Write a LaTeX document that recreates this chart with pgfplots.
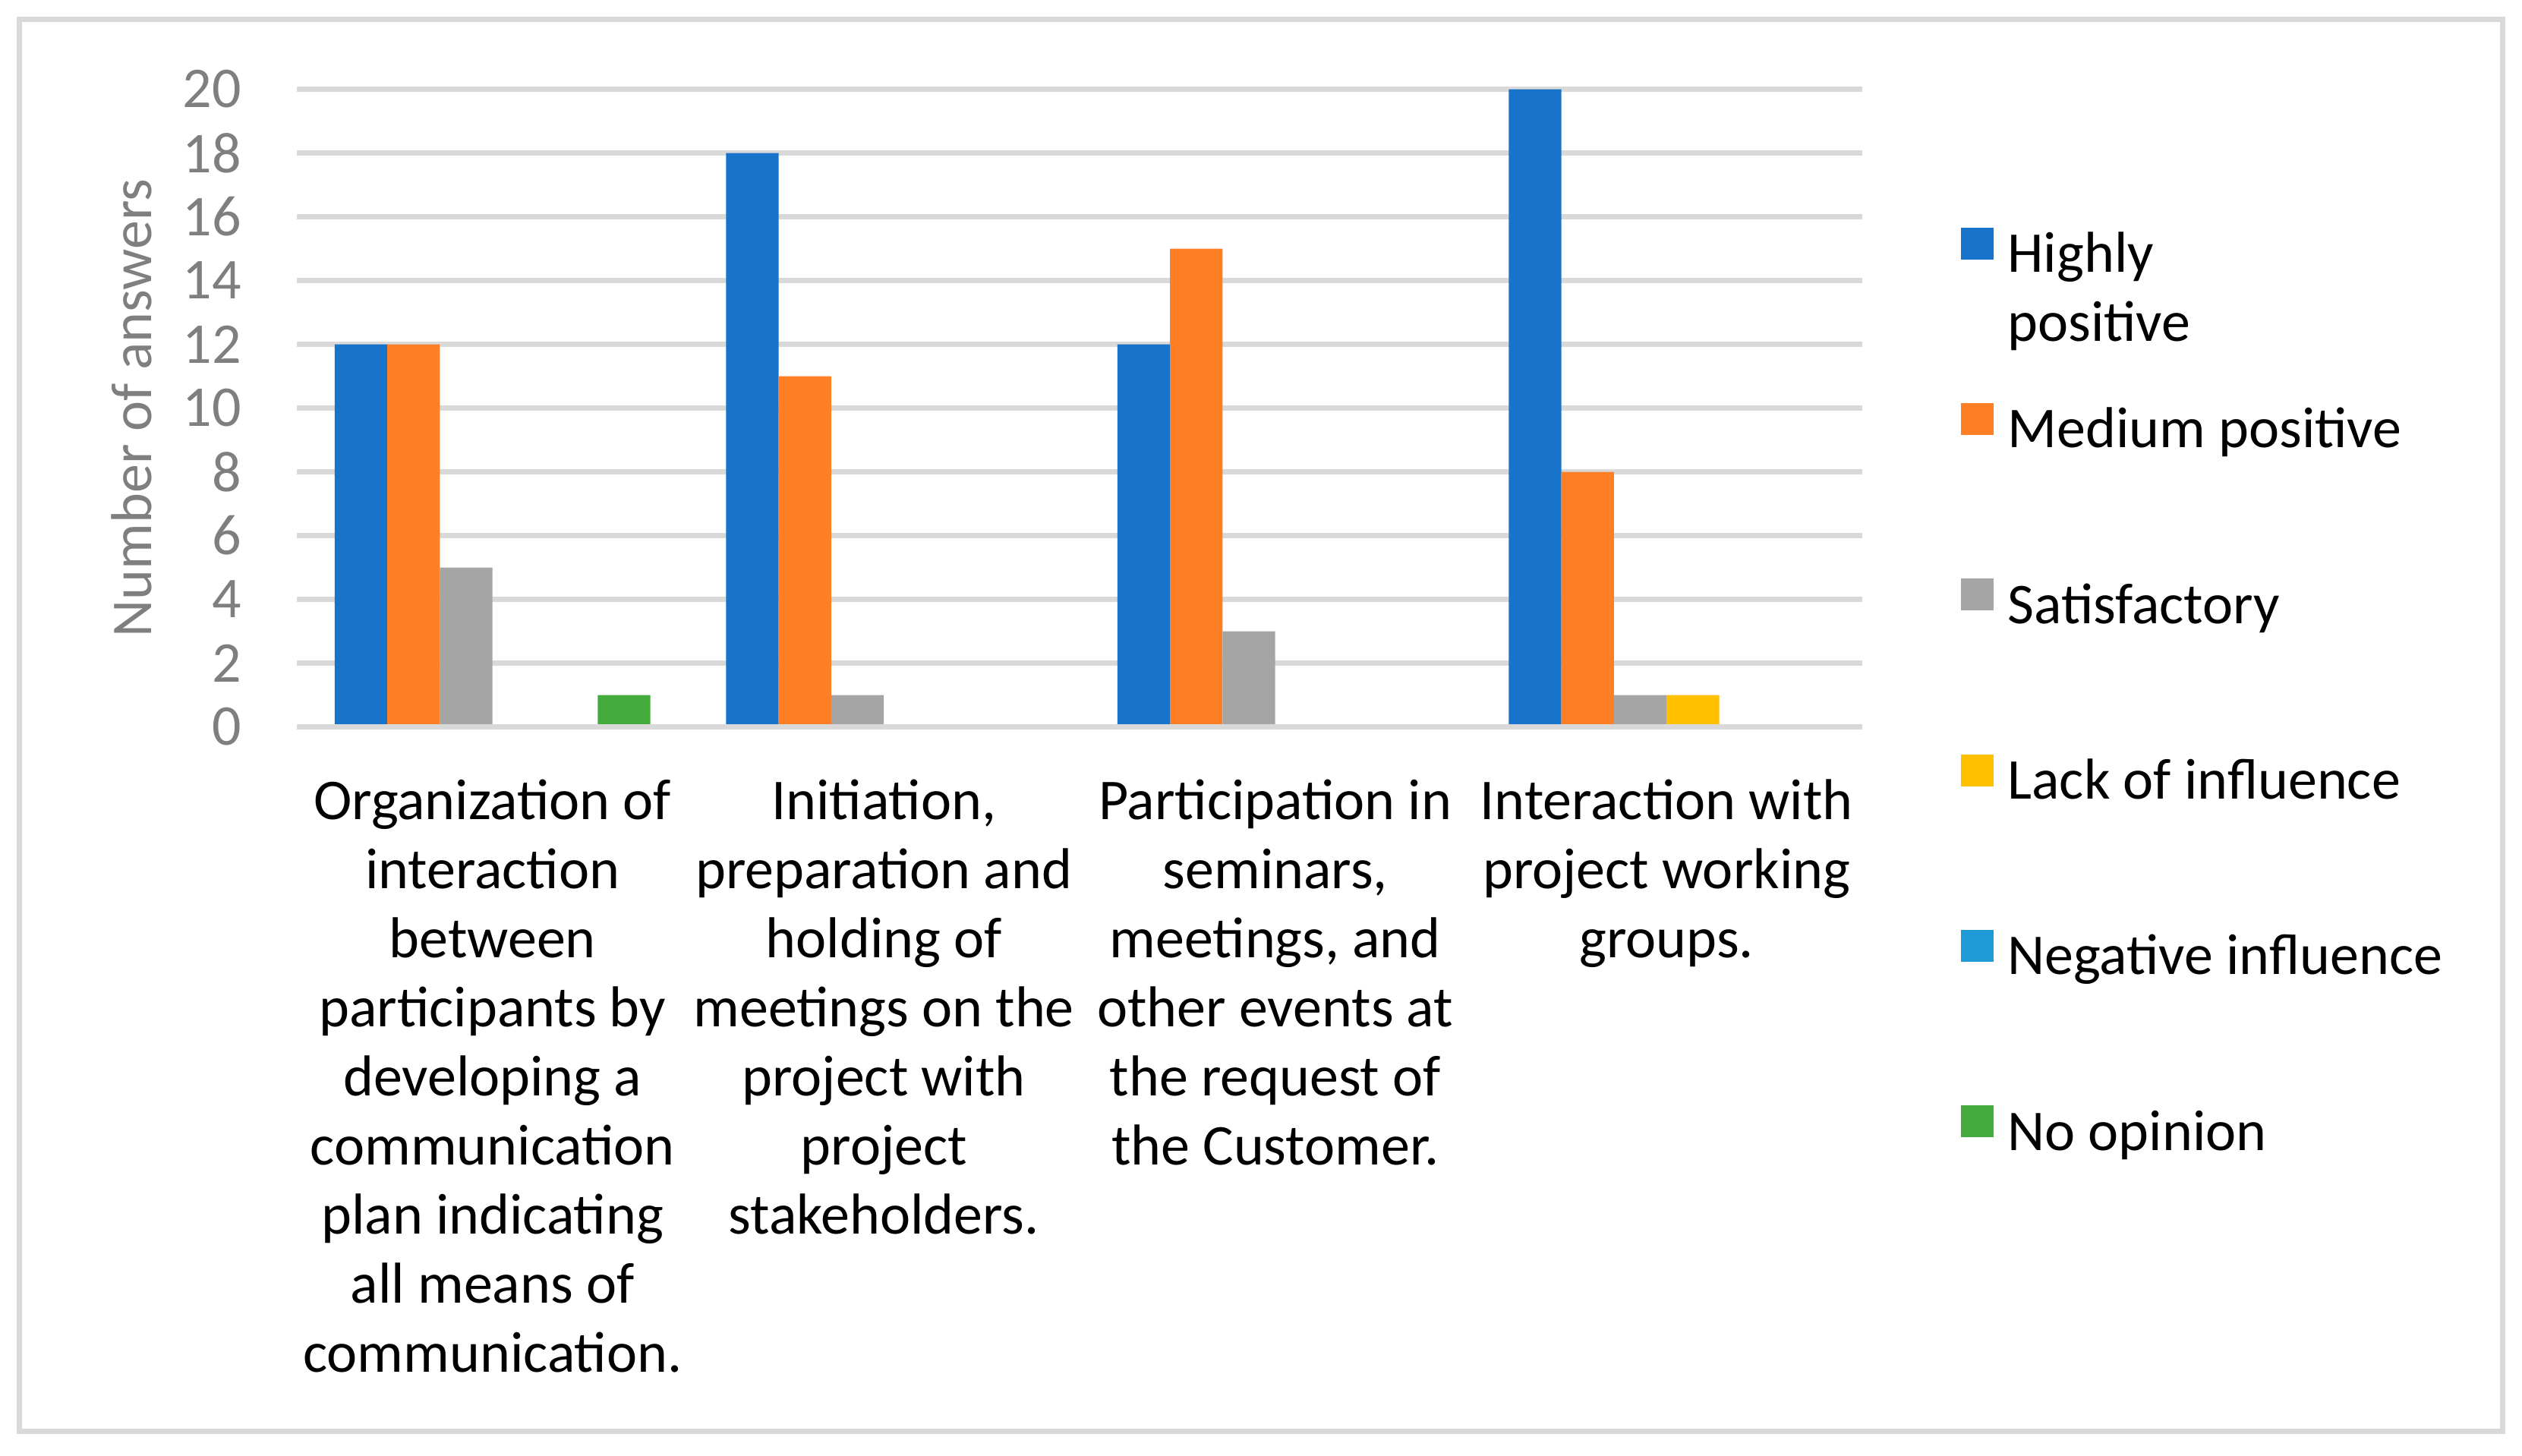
\documentclass[border=0pt]{standalone}
\usepackage{pgfplots}
\pgfplotsset{compat=1.18}
\usepackage{fontspec}
\setmainfont{Carlito}
\definecolor{hp}{HTML}{1874CB}
\definecolor{mp}{HTML}{FF7F27}
\definecolor{sat}{HTML}{A5A5A5}
\definecolor{lack}{HTML}{FFC000}
\definecolor{neg}{HTML}{1E9BD7}
\definecolor{noop}{HTML}{43AC3C}
\definecolor{gridc}{HTML}{D9D9D9}
\definecolor{tickc}{HTML}{7F7F7F}
\begin{document}
\begin{tikzpicture}[font=\fontsize{11.4}{13.65}\selectfont]
\path[use as bounding box] (0,0) rectangle (498.3pt,287.55pt);
\fill[white] (0,0) rectangle (498.3pt,287.55pt);
\draw[color=gridc, line width=1.05pt] (3.825pt,4.725pt) rectangle (494.475pt,283.725pt);
\begin{axis}[
  at={(58.65pt,143.925pt)}, anchor=south west,
  scale only axis, width=309.3pt, height=126pt,
  ybar=0pt, bar width=0.1344,
  xmin=-0.5, xmax=3.5, ymin=0, ymax=20,
  xtick={0,1,2,3}, ytick={0,2,...,20},
  xticklabels={
    {\strut Organization of\\interaction\\between\\participants by\\developing a\\communication\\plan indicating\\all means of\\communication.},
    {\strut Initiation,\\preparation and\\holding of\\meetings on the\\project with\\project\\stakeholders.},
    {\strut Participation in\\seminars,\\meetings, and\\other events at\\the request of\\the Customer.},
    {\strut Interaction with\\project working\\groups.}},
  axis line style={draw=none},
  major tick length=0pt,
  ymajorgrids, grid style={color=gridc, line width=1.05pt},
  /pgf/number format/assume math mode=true,
  yticklabel style={anchor=east, inner sep=0pt, xshift=-10.8pt, text=tickc},
  xticklabel style={anchor=north, inner sep=0pt, yshift=-8.52pt, align=center, text=black},
  ylabel={Number of answers},
  every axis y label/.style={at={(axis description cs:-0.09263,0.5)}, rotate=90, anchor=base, text=tickc, inner sep=0pt},
  legend style={at={(axis description cs:1.0630,0.7831)}, anchor=north west, draw=none, fill=none, inner sep=0pt, outer sep=0pt, row sep=22.9pt, column sep=2.8pt, nodes={inner sep=0pt, text height=8pt, text depth=3pt}},
  legend cell align=left,
  every axis plot post/.append style={legend image code/.code={\fill[##1] (0pt,0pt) rectangle (6.45pt,6.3pt);}},
]
\addplot[fill=hp, draw=none] coordinates {(0,12) (1,18) (2,12) (3,20)};
\addlegendentry{\begin{tabular}[t]{@{}l@{}}Highly\\positive\end{tabular}}
\addplot[fill=mp, draw=none] coordinates {(0,12) (1,11) (2,15) (3,8)};
\addlegendentry{Medium positive}
\addplot[fill=sat, draw=none] coordinates {(0,5) (1,1) (2,3) (3,1)};
\addlegendentry{Satisfactory}
\addplot[fill=lack, draw=none] coordinates {(0,0) (1,0) (2,0) (3,1)};
\addlegendentry{Lack of influence}
\addplot[fill=neg, draw=none] coordinates {(0,0) (1,0) (2,0) (3,0)};
\addlegendentry{Negative influence}
\addplot[fill=noop, draw=none] coordinates {(0,1) (1,0) (2,0) (3,0)};
\addlegendentry{No opinion}
\draw[gridc, line width=1.05pt] (axis cs:-0.5,0) -- (axis cs:3.5,0);
\end{axis}
\end{tikzpicture}
\end{document}
